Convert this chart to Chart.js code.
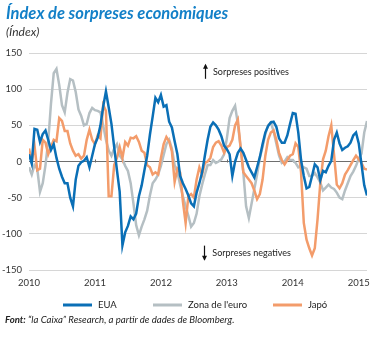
<!DOCTYPE html>
<html><head><meta charset="utf-8">
<script src="https://cdn.jsdelivr.net/npm/chart.js@4/dist/chart.umd.min.js"></script>
<style>
html,body{margin:0;padding:0;background:#fff;}
#wrap{position:relative;width:382px;height:338px;overflow:hidden;font-family:Lato,"Open Sans",sans-serif;}
#c{position:absolute;left:0;top:0;}
.title{position:absolute;left:6px;top:3px;font-style:italic;font-weight:700;font-size:16.5px;color:#1380c8;white-space:nowrap;}
.sub{position:absolute;left:6px;top:24px;font-style:italic;font-size:12px;color:#333;white-space:nowrap;}
.foot{position:absolute;left:5px;top:314px;font-style:italic;font-size:9.6px;color:#222;white-space:nowrap;}
</style></head><body>
<div id="wrap">
<canvas id="c" width="382" height="338"></canvas>
<div class="title">Índex de sorpreses econòmiques</div>
<div class="sub">(Índex)</div>
<div class="foot"><b>Font:</b> “la Caixa” Research, a partir de dades de Bloomberg.</div>
</div>
<script>
// Semi-monthly readings, starting January 2010
const startYear = 2010;
const pointsPerYear = 24;
const yearTicks = [2010, 2011, 2012, 2013, 2014, 2015];
const yTicks = [-150, -100, -50, 0, 50, 100, 150];
const seriesNames = ['EUA', "Zona de l'euro", 'Japó'];

const eua = [10,-3,45,44,27,38,43,30,16,24,
  5,-10,-21,-30,-30,-50,-62,-25,-6,-1,
  1,6,-8,8,24,33,50,76,97,75,
  52,20,-12,-42,-116,-98,-89,-76,-80,-72,
  -48,-33,-12,8,37,62,88,82,92,76,
  78,55,47,28,10,-20,-30,-38,-47,-58,
  -62,-43,-30,-15,8,30,48,54,50,44,
  35,22,17,10,-20,0,12,18,12,2,
  -8,-15,-22,-8,6,24,40,49,54,55,
  48,32,26,26,36,52,67,66,40,2,
  -20,-37,-35,-20,-4,-8,-26,-13,-15,-6,
  1,30,40,25,16,19,21,26,36,40,
  25,-4,-33,-47];

const zona = [-8,-18,-5,-10,-42,-30,-5,28,80,122,
  128,106,78,68,95,114,112,96,72,63,
  50,52,67,74,71,70,68,50,30,15,
  8,18,24,8,3,-6,-13,-30,-58,-88,
  -102,-90,-80,-68,-47,-30,-25,-18,-6,9,
  24,30,18,-5,-15,-32,-48,-62,-75,-90,
  -85,-72,-48,-32,-18,-5,-5,2,-2,0,
  3,10,32,60,70,77,52,20,-15,-62,
  -78,-58,-38,-18,5,20,38,50,54,42,
  25,8,-2,0,6,2,2,-2,-8,-6,
  -8,-10,-20,-20,-16,-22,-29,-40,-36,-32,
  -36,-38,-43,-50,-52,-40,-30,-20,-14,-6,
  4,11,40,56];

const japo = [18,0,22,-12,-10,30,26,10,20,30,
  28,60,56,42,42,25,15,8,10,4,
  8,30,44,30,24,36,32,78,70,-48,
  -48,-5,5,20,5,27,22,33,32,35,
  27,15,12,-5,-8,-18,-15,-18,5,24,
  34,28,14,-28,-10,-15,-55,-85,-48,-45,
  -50,-25,-8,-18,-2,0,5,20,26,28,
  22,12,20,22,30,50,58,20,-15,-20,
  -25,-30,-40,-52,-45,-25,8,30,40,43,
  30,12,2,-4,2,8,10,25,20,-15,
  -85,-108,-120,-130,-120,-80,-30,3,15,35,
  50,10,-32,-37,-30,-18,-12,-5,2,8,
  3,-2,-10,-11];

const colors = ['#0a6fb6', '#b5bfc3', '#f39c6b'];
const toPoints = vals => vals.map((v, i) => ({x: startYear + i / pointsPerYear, y: v}));

const notes = [
  {text: 'Sorpreses positives', t: 2012.79, v: 124, dir: 1},
  {text: 'Sorpreses negatives', t: 2012.78, v: -126, dir: -1}
];

const overlay = {
  id: 'overlay',
  beforeDatasetsDraw(chart) {
    const c = chart.ctx, xs = chart.scales.x, ys = chart.scales.y;
    const y0 = Math.round(ys.getPixelForValue(0)) + 0.5;
    c.save();
    c.strokeStyle = '#6e6e6e'; c.lineWidth = 1;
    yearTicks.slice(1, -1).forEach(yr => {
      const px = Math.round(xs.getPixelForValue(yr)) + 0.5;
      c.beginPath(); c.moveTo(px, y0 - 3); c.lineTo(px, y0); c.stroke();
    });
    c.restore();
  },
  afterDraw(chart) {
    const c = chart.ctx, xs = chart.scales.x, ys = chart.scales.y;
    c.save();
    c.font = '9px Lato'; c.fillStyle = '#222'; c.textBaseline = 'middle'; c.textAlign = 'left';
    notes.forEach(n => {
      const tx = xs.getPixelForValue(n.t), ty = ys.getPixelForValue(n.v);
      c.fillStyle = '#222';
      c.fillText(n.text, tx, ty);
      const ax = Math.round(tx - 8) + 0.5;
      const top = ty - 7, bot = ty + 7;
      c.strokeStyle = '#111'; c.lineWidth = 1.2;
      c.beginPath(); c.moveTo(ax, top); c.lineTo(ax, bot); c.stroke();
      c.fillStyle = '#111';
      c.beginPath();
      if (n.dir > 0) { c.moveTo(ax - 2.5, top + 4); c.lineTo(ax, top - 1); c.lineTo(ax + 2.5, top + 4); }
      else { c.moveTo(ax - 2.5, bot - 4); c.lineTo(ax, bot + 1); c.lineTo(ax + 2.5, bot - 4); }
      c.closePath(); c.fill();
    });
    const lx = [63, 153, 273], ly = 305;
    chart.data.datasets.forEach((ds, i) => {
      c.strokeStyle = ds.borderColor; c.lineWidth = 3;
      c.beginPath(); c.moveTo(lx[i], ly); c.lineTo(lx[i] + 29, ly); c.stroke();
      c.fillStyle = '#222'; c.font = '9.5px Lato'; c.textBaseline = 'middle';
      c.fillText(ds.label, lx[i] + 35, ly);
    });
    c.restore();
  }
};

new Chart(document.getElementById('c'), {
  type: 'line',
  data: {
    datasets: [
      {label: seriesNames[0], data: toPoints(eua), borderColor: colors[0], backgroundColor: colors[0], borderWidth: 2.5, pointRadius: 0, tension: 0, order: 0},
      {label: seriesNames[1], data: toPoints(zona), borderColor: colors[1], backgroundColor: colors[1], borderWidth: 2.5, pointRadius: 0, tension: 0, order: 2},
      {label: seriesNames[2], data: toPoints(japo), borderColor: colors[2], backgroundColor: colors[2], borderWidth: 2.5, pointRadius: 0, tension: 0, order: 1}
    ]
  },
  options: {
    responsive: false, animation: false, devicePixelRatio: 1,
    layout: {padding: {left: 0, right: 15, top: 53, bottom: 46}},
    plugins: {legend: {display: false}, tooltip: {enabled: false}},
    scales: {
      x: {
        type: 'linear', min: 2010, max: 2015.125,
        afterBuildTicks: s => { s.ticks = yearTicks.map(v => ({value: v})); },
        afterFit: s => { s.height = 22; },
        ticks: {font: {family: 'Lato', size: 9.5}, color: '#333', maxRotation: 0, autoSkip: false, padding: 7, callback: v => String(v)},
        grid: {display: false, drawTicks: false}, border: {display: false}
      },
      y: {
        min: -150, max: 150,
        afterBuildTicks: s => { s.ticks = yTicks.map(v => ({value: v})); },
        afterFit: s => { s.width = 29; },
        ticks: {font: {family: 'Lato', size: 9.5}, color: '#333', padding: 7, callback: v => String(v)},
        grid: {color: ctx => ctx.tick && ctx.tick.value === 0 ? '#6e6e6e' : '#d6d6d6', lineWidth: 1, drawTicks: false},
        border: {display: false}
      }
    }
  },
  plugins: [overlay]
});
</script>
</body></html>
